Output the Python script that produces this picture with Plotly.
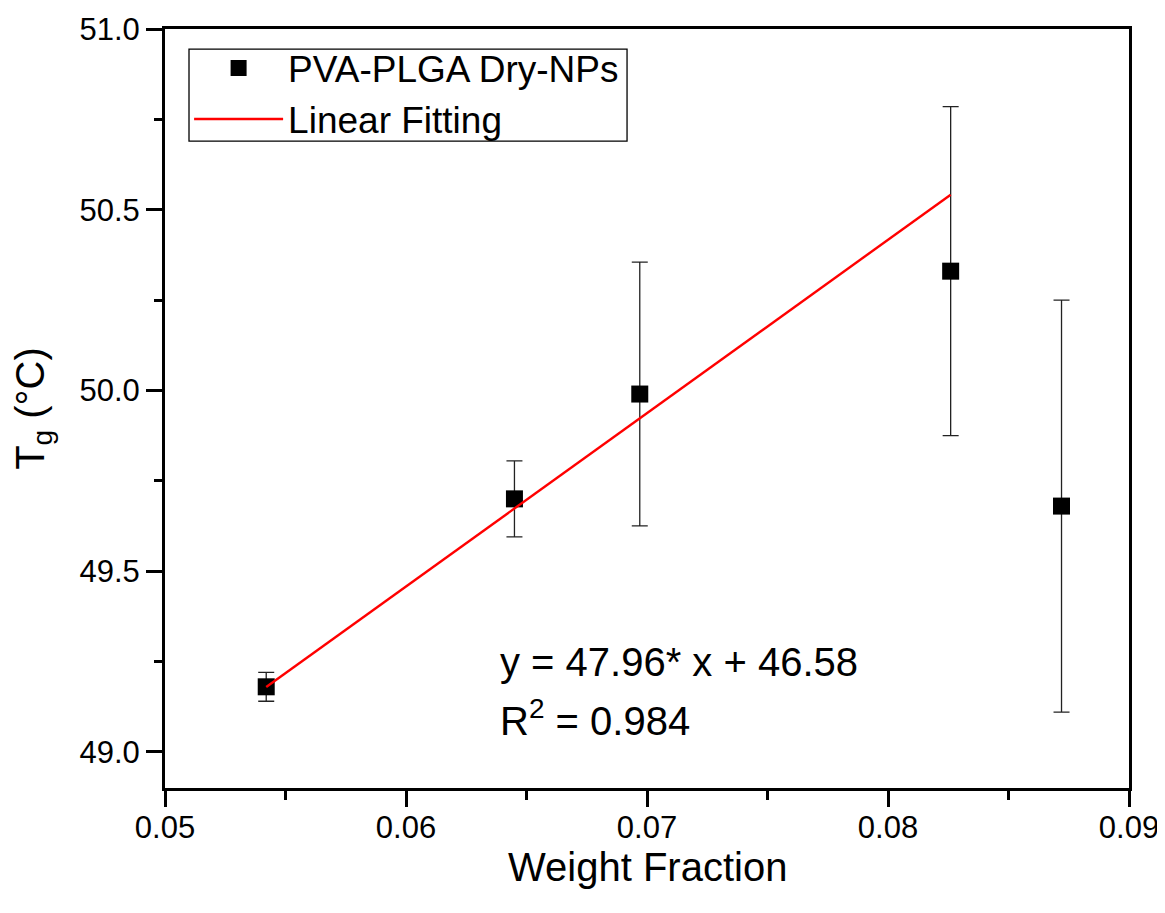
import plotly.graph_objects as go

weight_fraction = [0.0542, 0.0645, 0.0697, 0.0826, 0.0872]
tg_values = [49.18, 49.70, 49.99, 50.33, 49.68]
tg_errors = [0.04, 0.105, 0.365, 0.455, 0.57]
fit_slope = 47.96
fit_intercept = 46.58
fit_x = [0.0542, 0.0826]
fit_y = [fit_slope * x + fit_intercept for x in fit_x]
x_ticks = [0.05, 0.06, 0.07, 0.08, 0.09]
y_ticks = [49.0, 49.5, 50.0, 50.5, 51.0]

FONT = "Liberation Sans, Arial, sans-serif"

fig = go.Figure()
fig.add_trace(go.Scatter(
    x=weight_fraction, y=tg_values, mode="markers", name="PVA-PLGA Dry-NPs",
    marker=dict(symbol="square", size=17, color="black"),
    error_y=dict(type="data", array=tg_errors, visible=True, color="#222222", thickness=1.3, width=8),
))
fig.add_trace(go.Scatter(
    x=fit_x, y=fit_y, mode="lines", name="Linear Fitting",
    line=dict(color="red", width=2.4),
))

fig.update_layout(
    width=1157, height=905,
    margin=dict(l=157, r=36, t=21, b=125, autoexpand=False),
    plot_bgcolor="white", paper_bgcolor="white",
    font=dict(family=FONT, color="black"),
    showlegend=True,
    legend=dict(x=0.025, y=0.989, xanchor="left", yanchor="top",
                borderwidth=0, bgcolor="rgba(0,0,0,0)",
                font=dict(size=37, family=FONT), tracegroupgap=0, itemwidth=89),
    shapes=[
        dict(type="rect", xref="paper", yref="paper", x0=0.0249, x1=0.4793, y0=0.8524, y1=0.9736,
             line=dict(color="black", width=1.3), fillcolor="rgba(0,0,0,0)", layer="below"),
    ],
    annotations=[
        dict(x=0.0638, y=49.25, xref="x", yref="y", xanchor="left", yanchor="middle",
             text="y = 47.96* x + 46.58", showarrow=False, font=dict(size=40, family=FONT)),
        dict(x=0.0638, y=49.094, xref="x", yref="y", xanchor="left", yanchor="middle",
             text="R<sup>2</sup> = 0.984", showarrow=False, font=dict(size=40, family=FONT)),
        dict(x=0.5, y=-0.104, xref="paper", yref="paper", xanchor="center", yanchor="middle",
             text="Weight Fraction", showarrow=False, font=dict(size=40, family=FONT)),
    ],
)

fig.update_xaxes(
    range=[0.05, 0.09], tickvals=x_ticks, ticktext=[f"{v:.2f}" for v in x_ticks],
    automargin=False,
    showgrid=False, zeroline=False, showline=True, linecolor="black", linewidth=3, mirror=True,
    ticks="outside", ticklen=16, tickwidth=3, tickcolor="black",
    minor=dict(dtick=0.005, ticks="outside", ticklen=9, tickwidth=3, tickcolor="black", showgrid=False),
    tickfont=dict(size=31, family=FONT),
    ticklabelstandoff=-6,
)
fig.update_yaxes(
    range=[48.9, 51.0], tickvals=y_ticks, ticktext=[f"{v:.1f}" for v in y_ticks],
    automargin=False,
    showgrid=False, zeroline=False, showline=True, linecolor="black", linewidth=3, mirror=True,
    ticks="outside", ticklen=16, tickwidth=3, tickcolor="black",
    minor=dict(dtick=0.25, tick0=49.0, ticks="outside", ticklen=8, tickwidth=3, tickcolor="black", showgrid=False),
    tickfont=dict(size=31, family=FONT),
    title=dict(text="T<sub>g</sub> (°C)", font=dict(size=40, family=FONT), standoff=27),
)

fig.write_html("out.html")
